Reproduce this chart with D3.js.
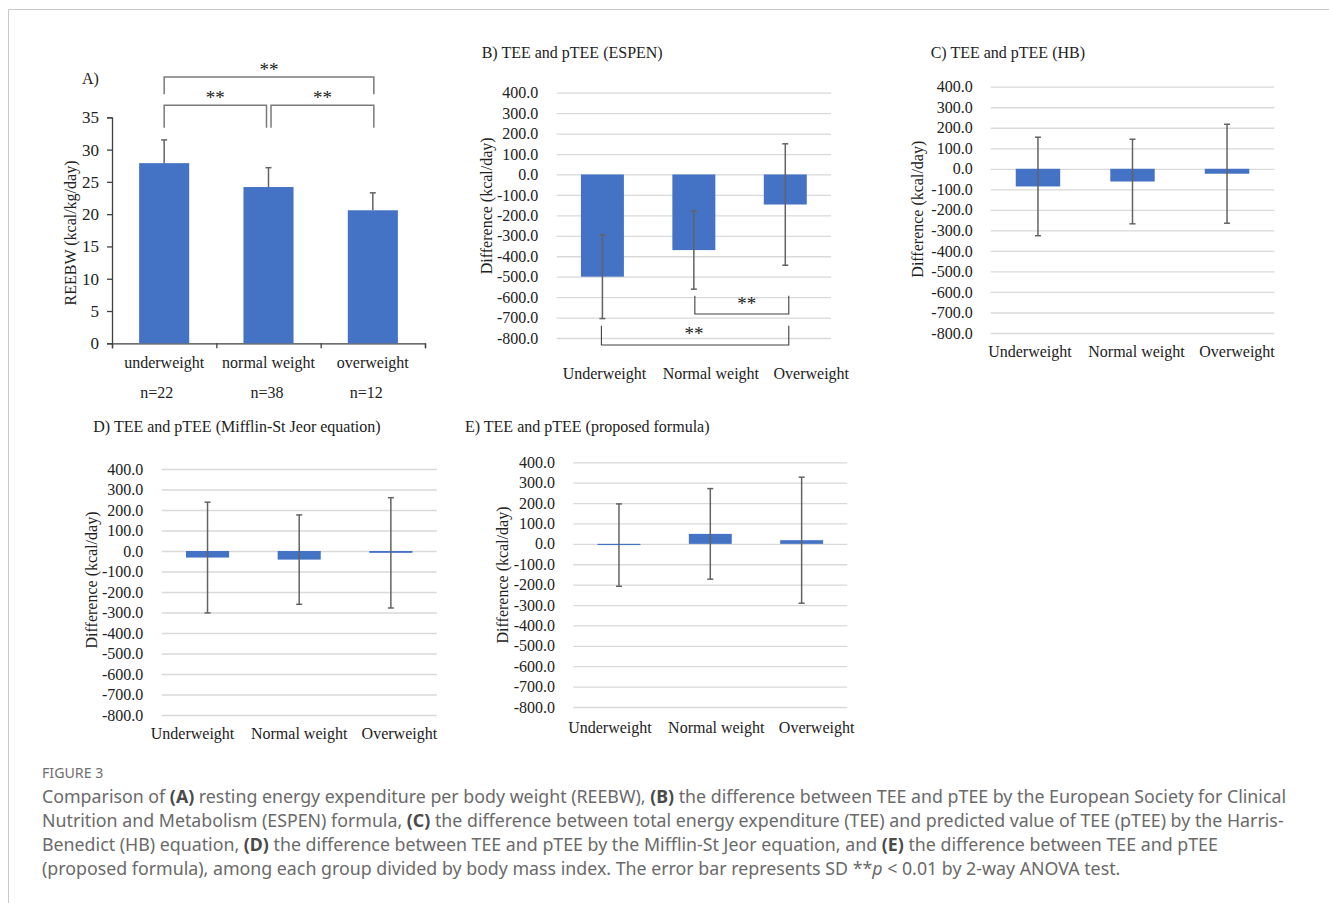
<!DOCTYPE html>
<html>
<head>
<meta charset="utf-8">
<script src="https://cdn.jsdelivr.net/npm/d3@7"></script>
<style>
  body { margin: 0; background: #fff; }
  svg { display: block; }
</style>
</head>
<body>
<svg></svg>
<script>
// data
var groupsA = ['underweight', 'normal weight', 'overweight'];
var groupN = ['n=22', 'n=38', 'n=12'];
var reebwMean = [27.9, 24.2, 20.6];
var reebwSD = [3.6, 3.0, 2.7];
var reebwTicks = [0, 5, 10, 15, 20, 25, 30, 35];

var groups = ['Underweight', 'Normal weight', 'Overweight'];
var espenMean = [-500, -370, -147];
var espenSD = [205, 191, 297];
var hbMean = [-86, -62, -24];
var hbSD = [240, 206, 241];
var msjMean = [-32, -42, -9];
var msjSD = [270, 218, 269];
var propMean = [-6, 49, 18];
var propSD = [202, 222, 309];
var diffTicks = [400, 300, 200, 100, 0, -100, -200, -300, -400, -500, -600, -700, -800];

var sigA = [[0, 1], [1, 2], [0, 2]];
var sigB = [[1, 2], [0, 2]];

var width = 1329;
var height = 903;
var barColor = '#4472c4';
var errColor = '#636363';
var serif = '"Liberation Serif", "Times New Roman", serif';

var svg = d3.select('svg').attr('width', width).attr('height', height);

// page frame
svg.append('path')
   .attr('d', 'M8.5,903 V9.5 H1329')
   .attr('fill', 'none')
   .attr('stroke', '#c9c9c9')
   .attr('stroke-width', 1);

//Panel A
function drawPanelA() {
    var g = svg.append('g');
    var x = d3.scaleBand().domain(groupsA).range([112, 425]).paddingInner(0.52).paddingOuter(0.26);
    var y = d3.scaleLinear().domain([0, 35]).range([343.3, 117.3]);

    var yAxis = g.append('g').attr('transform', 'translate(112,0)')
        .call(d3.axisLeft(y).tickValues(reebwTicks).tickSize(5).tickPadding(8));
    var xb = d3.scaleLinear().domain([0, 3]).range([112, 425]);
    var xAxis = g.append('g').attr('transform', 'translate(0,343.3)')
        .call(d3.axisBottom(xb).ticks(3).tickSize(5).tickFormat(''));
    [yAxis, xAxis].forEach(a => {
        a.selectAll('path, line').attr('stroke', '#404040').attr('stroke-width', 1.3);
        a.selectAll('text').attr('font-family', serif).attr('font-size', 17).attr('fill', '#222');
    });

    g.selectAll('.bar').data(groupsA).enter().append('rect')
        .attr('x', d => x(d))
        .attr('width', x.bandwidth())
        .attr('y', (d, i) => y(reebwMean[i]))
        .attr('height', (d, i) => y(0) - y(reebwMean[i]))
        .attr('fill', barColor);

    // upper error bars only
    var eb = g.selectAll('.err').data(groupsA).enter().append('g')
        .attr('transform', d => `translate(${x(d) + x.bandwidth() / 2},0)`);
    eb.append('line')
        .attr('y1', (d, i) => y(reebwMean[i]))
        .attr('y2', (d, i) => y(reebwMean[i] + reebwSD[i]))
        .attr('stroke', errColor).attr('stroke-width', 1.5);
    eb.append('line')
        .attr('x1', -3).attr('x2', 3)
        .attr('y1', (d, i) => y(reebwMean[i] + reebwSD[i]))
        .attr('y2', (d, i) => y(reebwMean[i] + reebwSD[i]))
        .attr('stroke', errColor).attr('stroke-width', 1.5);

    g.selectAll('.xlab').data(groupsA).enter().append('text')
        .attr('x', d => x(d) + x.bandwidth() / 2)
        .attr('y', 368)
        .attr('text-anchor', 'middle')
        .attr('font-family', serif).attr('font-size', 16).attr('fill', '#222')
        .text(d => d);
    var nShift = [-7.5, -1.5, -6.5];
    g.selectAll('.nlab').data(groupN).enter().append('text')
        .attr('x', (d, i) => x(groupsA[i]) + x.bandwidth() / 2 + nShift[i])
        .attr('y', 398)
        .attr('text-anchor', 'middle')
        .attr('font-family', serif).attr('font-size', 16).attr('fill', '#222')
        .text(d => d);

    g.append('text')
        .attr('transform', 'translate(76,233) rotate(-90)')
        .attr('text-anchor', 'middle')
        .attr('font-family', serif).attr('font-size', 16).attr('fill', '#222')
        .text('REEBW (kcal/kg/day)');
    g.append('text')
        .attr('x', 82).attr('y', 84)
        .attr('font-family', serif).attr('font-size', 16).attr('fill', '#222')
        .text('A)');

    // significance brackets: [top of line, bottom of legs]
    var levels = [[105.3, 127.7], [105.3, 127.7], [77, 94.3]];
    var cx = i => x(groupsA[i]) + x.bandwidth() / 2;
    sigA.forEach((p, k) => {
        var xa = p[0] === 1 ? cx(1) + 2.5 : cx(p[0]);
        var xz = p[1] === 1 ? cx(1) - 2 : cx(p[1]) + 1;
        g.append('path')
            .attr('d', `M${xa},${levels[k][1]} V${levels[k][0]} H${xz} V${levels[k][1]}`)
            .attr('fill', 'none').attr('stroke', '#7a7a7a').attr('stroke-width', 1.5);
        g.append('text')
            .attr('x', (xa + xz) / 2).attr('y', levels[k][0] - 1)
            .attr('text-anchor', 'middle')
            .attr('font-family', serif).attr('font-size', 19).attr('fill', '#222')
            .text('**');
    });
}

//Panels B-E
function drawDiff(p, means, sds) {
    var g = svg.append('g');
    var x = d3.scaleBand().domain(groups).range([p.x0, p.x1]).paddingInner(0.53).paddingOuter(0.265);
    var y = d3.scaleLinear().domain([400, -800]).range([p.yTop, p.yBot]);

    var ax = g.append('g').attr('transform', `translate(${p.x0},0)`)
        .call(d3.axisLeft(y).tickValues(diffTicks).tickSize(-(p.x1 - p.x0))
                .tickPadding(p.x0 - p.tickX).tickFormat(d => d.toFixed(1)));
    ax.select('.domain').remove();
    ax.selectAll('line').attr('stroke', '#d9d9d9').attr('stroke-width', 1.3);
    ax.selectAll('text').attr('font-family', serif).attr('font-size', 16).attr('fill', '#222');

    g.selectAll('.bar').data(groups).enter().append('rect')
        .attr('x', d => x(d))
        .attr('width', x.bandwidth())
        .attr('y', (d, i) => y(Math.max(0, means[i])))
        .attr('height', (d, i) => Math.abs(y(means[i]) - y(0)))
        .attr('fill', barColor);

    var eb = g.selectAll('.err').data(groups).enter().append('g')
        .attr('transform', d => `translate(${x(d) + x.bandwidth() / 2},0)`)
        .attr('stroke', errColor).attr('stroke-width', 1.5);
    eb.append('line')
        .attr('y1', (d, i) => y(means[i] - sds[i]))
        .attr('y2', (d, i) => y(means[i] + sds[i]));
    eb.append('line')
        .attr('x1', -3).attr('x2', 3)
        .attr('y1', (d, i) => y(means[i] + sds[i]))
        .attr('y2', (d, i) => y(means[i] + sds[i]));
    eb.append('line')
        .attr('x1', -3).attr('x2', 3)
        .attr('y1', (d, i) => y(means[i] - sds[i]))
        .attr('y2', (d, i) => y(means[i] - sds[i]));

    // category labels are spread out a little, as in the original
    g.selectAll('.xlab').data(groups).enter().append('text')
        .attr('x', (d, i) => x(d) + x.bandwidth() / 2 + p.labShift[i])
        .attr('y', p.xlabY + 5)
        .attr('text-anchor', 'middle')
        .attr('font-family', serif).attr('font-size', 16).attr('fill', '#222')
        .text(d => d);

    g.append('text')
        .attr('transform', `translate(${p.ylab[0] + 5},${p.ylab[1]}) rotate(-90)`)
        .attr('text-anchor', 'middle')
        .attr('font-family', serif).attr('font-size', 16).attr('fill', '#222')
        .text('Difference (kcal/day)');
    g.append('text')
        .attr('x', p.title[0]).attr('y', p.title[1] + 5)
        .attr('font-family', serif).attr('font-size', 16).attr('fill', '#222')
        .text(p.label);

    if (p.sig) {
        var cx = i => x(groups[i]) + x.bandwidth() / 2;
        var levels = [[295.7, 314], [325.7, 345]];
        var starShift = [5, -1];
        p.sig.forEach((s, k) => {
            var xa = cx(s[0]) + (s[0] === 1 ? 1 : -1);
            var xz = cx(s[1]) + 3.5;
            g.append('path')
                .attr('d', `M${xa},${levels[k][0]} V${levels[k][1]} H${xz} V${levels[k][0]}`)
                .attr('fill', 'none').attr('stroke', '#404040').attr('stroke-width', 1.1);
            g.append('text')
                .attr('x', (xa + xz) / 2 + starShift[k]).attr('y', levels[k][0] + 14)
                .attr('text-anchor', 'middle')
                .attr('font-family', serif).attr('font-size', 19).attr('fill', '#222')
                .text('**');
        });
    }
}

drawPanelA();
drawDiff({label: 'B) TEE and pTEE (ESPEN)', x0: 556.7, x1: 831, yTop: 92.7, yBot: 338,
          title: [481.7, 52.7], tickX: 538.3, ylab: [486.7, 205.8], xlabY: 374.3,
          labShift: [2, 17, 26], sig: sigB},
         espenMean, espenSD);
drawDiff({label: 'C) TEE and pTEE (HB)', x0: 990.7, x1: 1274.3, yTop: 86.7, yBot: 333,
          title: [930.7, 52.7], tickX: 972.7, ylab: [918.3, 209.2], xlabY: 352.3,
          labShift: [-8, 4, 10]},
         hbMean, hbSD);
drawDiff({label: 'D) TEE and pTEE (Mifflin-St Jeor equation)', x0: 161.7, x1: 436.7, yTop: 469, yBot: 715,
          title: [93.3, 427.3], tickX: 143.3, ylab: [92.3, 580], xlabY: 734,
          labShift: [-15, 0, 8.5]},
         msjMean, msjSD);
drawDiff({label: 'E) TEE and pTEE (proposed formula)', x0: 573.3, x1: 847.3, yTop: 462.3, yBot: 707,
          title: [465, 426.7], tickX: 555, ylab: [502.7, 575], xlabY: 727.7,
          labShift: [-9, 6, 15]},
         propMean, propSD);

//Caption
var sans = '"Noto Sans", "Open Sans", sans-serif';
svg.append('text')
   .attr('x', 42).attr('y', 778)
   .attr('font-family', sans).attr('font-size', 14.2).attr('fill', '#707070')
   .text('FIGURE 3');

var captionLines = [
    [['Comparison of '], ['(A)', 'b'], [' resting energy expenditure per body weight (REEBW), '], ['(B)', 'b'],
     [' the difference between TEE and pTEE by the European Society for Clinical']],
    [['Nutrition and Metabolism (ESPEN) formula, '], ['(C)', 'b'],
     [' the difference between total energy expenditure (TEE) and predicted value of TEE (pTEE) by the Harris-']],
    [['Benedict (HB) equation, '], ['(D)', 'b'], [' the difference between TEE and pTEE by the Mifflin-St Jeor equation, and '],
     ['(E)', 'b'], [' the difference between TEE and pTEE']],
    [['(proposed formula), among each group divided by body mass index. The error bar represents SD **'], ['p', 'i'],
     [' < 0.01 by 2-way ANOVA test.']]
];
captionLines.forEach((line, i) => {
    var t = svg.append('text')
        .attr('x', 42).attr('y', 803 + i * 24)
        .attr('font-family', sans).attr('font-size', 17.8).attr('fill', '#6a6a6a');
    line.forEach(part => {
        t.append('tspan')
         .attr('font-weight', part[1] === 'b' ? 'bold' : null)
         .attr('font-style', part[1] === 'i' ? 'italic' : null)
         .attr('fill', part[1] === 'b' ? '#4a4a4a' : null)
         .text(part[0]);
    });
});
</script>
</body>
</html>
